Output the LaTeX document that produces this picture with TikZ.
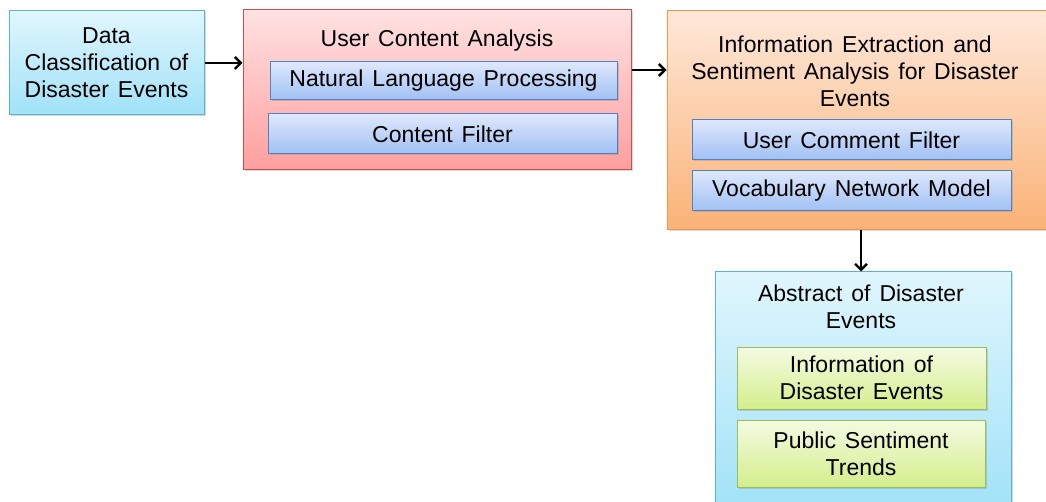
\documentclass[tikz,border=0pt]{standalone}
\usepackage{fontspec}
\setmainfont{Liberation Sans}[WordSpace=1.4]
\usetikzlibrary{shadows,arrows.meta}
\definecolor{cyT}{RGB}{224,246,253}
\definecolor{cyB}{RGB}{160,226,248}
\definecolor{cyD}{RGB}{90,180,205}
\definecolor{rdT}{RGB}{255,226,226}
\definecolor{rdB}{RGB}{255,158,158}
\definecolor{rdD}{RGB}{200,80,78}
\definecolor{blT}{RGB}{222,232,252}
\definecolor{blB}{RGB}{160,192,244}
\definecolor{blD}{RGB}{79,129,196}
\definecolor{orT}{RGB}{255,232,218}
\definecolor{orB}{RGB}{250,178,118}
\definecolor{orD}{RGB}{245,150,70}
\definecolor{grT}{RGB}{244,251,226}
\definecolor{grB}{RGB}{212,238,140}
\definecolor{grD}{RGB}{155,190,90}
\tikzset{
  boxbase/.style={rectangle, inner sep=0pt, line width=1pt,
    drop shadow={shadow xshift=1.5pt, shadow yshift=-1.5pt, opacity=0.3}},
  cyanbox/.style={boxbase, draw=cyD, top color=cyT, bottom color=cyB},
  redbox/.style={boxbase, draw=rdD, top color=rdT, bottom color=rdB},
  bluebox/.style={boxbase, draw=blD, top color=blT, bottom color=blB},
  orangebox/.style={boxbase, draw=orD, top color=orT, bottom color=orB},
  greenbox/.style={boxbase, draw=grD, top color=grT, bottom color=grB},
  lbl/.style={font=\fontsize{23}{27}\selectfont, align=center, inner sep=0pt},
  arr/.style={-{Straight Barb[length=6pt,width=12pt,line width=2.4pt]}, line width=2.6pt}
}
\begin{document}
\begin{tikzpicture}[x=1pt,y=-1pt]
\useasboundingbox (0,0) rectangle (1046,502);
% box 1
\node[cyanbox, minimum width=195pt, minimum height=104pt] (b1) at (106.5,63) {};
\node[lbl] (t1) at (106.5,63) {Data\\Classification of\\Disaster Events};
% box 2
\node[redbox, minimum width=388pt, minimum height=160pt] (b2) at (437,90) {};
\node[lbl] (t2) at (437,41) {User Content Analysis};
\node[bluebox, minimum width=347pt, minimum height=38pt] (nlp) at (443.5,81) {};
\node[lbl] (tnlp) at (443.5,81) {Natural Language Processing};
\node[bluebox, minimum width=349pt, minimum height=40pt] (cf) at (442.5,134) {};
\node[lbl] (tcf) at (442.5,134) {Content Filter};
% box 3
\node[orangebox, minimum width=380pt, minimum height=219pt] (b3) at (857,120.5) {};
\node[lbl] (t3) at (855,71.5) {Information Extraction and\\Sentiment Analysis for Disaster\\Events};
\node[bluebox, minimum width=319pt, minimum height=40pt] (ucf) at (851.5,140) {};
\node[lbl] (tucf) at (851.5,140) {User Comment Filter};
\node[bluebox, minimum width=319pt, minimum height=40pt] (vnm) at (851.5,191) {};
\node[lbl] (tvnm) at (851.5,191) {Vocabulary Network Model};
% box 4
\node[cyanbox, minimum width=296pt, minimum height=240pt] (b4) at (863,392) {};
\node[lbl] (t4) at (861,307) {Abstract of Disaster\\Events};
\node[greenbox, minimum width=249pt, minimum height=62pt] (info) at (861.5,378) {};
\node[lbl] (tinfo) at (861.5,378) {Information of\\Disaster Events};
\node[greenbox, minimum width=248pt, minimum height=67pt] (pst) at (861,453.5) {};
\node[lbl] (tpst) at (861,453.5) {Public Sentiment\\Trends};
% connectors
\coordinate (a2) at (0,70);
\coordinate (a3) at (861,0);
\draw[arr] (b1.east) -- (b2.west |- b1.east);
\draw[arr] (b2.east |- a2) -- (b3.west |- a2);
\draw[arr] (b3.south -| a3) -- (b4.north -| a3);
\end{tikzpicture}
\end{document}
